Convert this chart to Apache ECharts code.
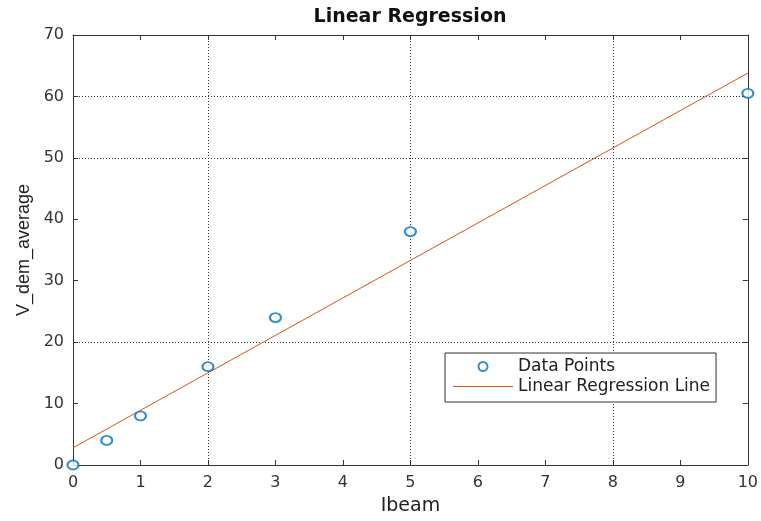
<!DOCTYPE html>
<html>
<head>
<meta charset="utf-8">
<title>Linear Regression</title>
<script src="https://cdn.jsdelivr.net/npm/echarts@6/dist/echarts.min.js"></script>
<style>
  html, body { margin: 0; padding: 0; background: #fff; }
  #chart { width: 761px; height: 521px; }
</style>
</head>
<body>
<div id="chart"></div>
<script>
// Measured points: beam current vs. averaged demodulated voltage
const ibeam = [0, 0.5, 1, 2, 3, 5, 10];
const vDemAverage = [0, 4, 8, 16, 24, 38, 60.5];

// Least-squares fit line, evaluated at the ends of the x range
const fitX = [0, 10];
const fitY = [2.8, 63.8];

// Dotted reference lines
const gridX = [2, 5, 8];
const gridY = [20, 50, 60];

// Axis ranges and tick spacing
const xRange = [0, 10], xStep = 1;
const yRange = [0, 70], yStep = 10;

const axisColor = '#333333';
const font = 'DejaVu Sans';

// Legend swatch for the fit: a thin horizontal stroke inside a 60x9 box
// (the tiny corner triangles only pin the bounding box)
const lineSwatch = 'path://M0,0 L0,0.01 L0.01,0 Z M0,4 L60,4 L60,5 L0,5 Z M60,9 L60,8.99 L59.99,9 Z';

const scatterData = ibeam.map((x, i) => [x, vDemAverage[i]]);
const fitData = fitX.map((x, i) => [x, fitY[i]]);
const refLines = gridX.map(v => ({ xAxis: v })).concat(gridY.map(v => ({ yAxis: v })));

function boxAxis(extra) {
  return Object.assign({
    type: 'value',
    axisLine: { show: true, onZero: false, lineStyle: { color: axisColor, width: 1 } },
    axisTick: { show: true, inside: true, length: 5, lineStyle: { color: axisColor } },
    splitLine: { show: false },
    axisLabel: { show: false }
  }, extra);
}

const chart = echarts.init(document.getElementById('chart'), null, { renderer: 'canvas' });

chart.setOption({
  backgroundColor: '#ffffff',
  animation: false,
  title: {
    text: 'Linear Regression',
    left: 410,
    top: 8,
    padding: 0,
    textAlign: 'center',
    textStyle: { fontFamily: font, fontWeight: 'bold', fontSize: 19, color: '#111111' }
  },
  grid: { left: 73, right: 12, top: 35, bottom: 54, containLabel: false },
  legend: {
    orient: 'vertical',
    left: 445,
    top: 353,
    padding: [5, 6, 7, 8],
    itemWidth: 60,
    itemHeight: 9,
    itemGap: 3,
    backgroundColor: '#ffffff',
    borderColor: axisColor,
    borderWidth: 1,
    borderRadius: 0,
    textStyle: { fontFamily: font, fontSize: 17, color: '#222222', lineHeight: 16 },
    data: [
      { name: 'Data Points', icon: 'emptyCircle' },
      { name: 'Linear Regression Line', icon: lineSwatch }
    ]
  },
  xAxis: [
    boxAxis({
      position: 'bottom',
      min: xRange[0], max: xRange[1], interval: xStep,
      name: 'Ibeam',
      nameLocation: 'middle',
      nameGap: 32,
      nameTextStyle: { fontFamily: font, fontSize: 19, color: '#222222' },
      axisLabel: { show: true, margin: 10, fontFamily: font, fontSize: 16, color: '#333333' }
    }),
    boxAxis({ position: 'top', min: xRange[0], max: xRange[1], interval: xStep })
  ],
  yAxis: [
    boxAxis({
      position: 'left',
      min: yRange[0], max: yRange[1], interval: yStep,
      name: 'V_dem_average',
      nameLocation: 'middle',
      nameRotate: 90,
      nameGap: 40,
      nameTextStyle: { fontFamily: 'Liberation Sans', fontSize: 18, color: '#222222' },
      axisLabel: { show: true, margin: 9, fontFamily: font, fontSize: 16, color: '#333333' }
    }),
    boxAxis({ position: 'right', min: yRange[0], max: yRange[1], interval: yStep })
  ],
  series: [
    {
      name: 'Data Points',
      type: 'scatter',
      data: scatterData,
      symbol: 'emptyCircle',
      symbolSize: [11, 9],
      itemStyle: { color: '#0072BD', borderColor: '#0072BD', borderWidth: 1 },
      z: 3,
      markLine: {
        silent: true,
        symbol: ['none', 'none'],
        label: { show: false },
        lineStyle: { color: '#333333', width: 1, type: [1, 2] },
        data: refLines,
        z: 1
      }
    },
    {
      name: 'Linear Regression Line',
      type: 'line',
      data: fitData,
      symbol: 'none',
      lineStyle: { color: '#D95319', width: 1 },
      itemStyle: { color: '#D95319' },
      z: 2
    }
  ]
});
</script>
</body>
</html>
